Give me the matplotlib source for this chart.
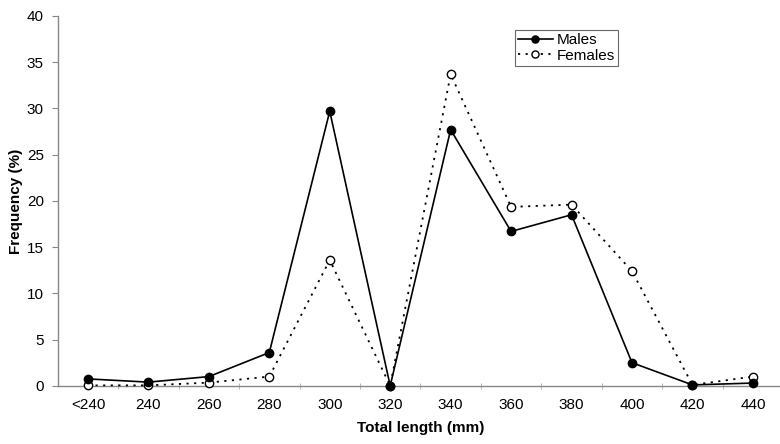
import matplotlib
matplotlib.use("Agg")
import matplotlib.pyplot as plt
import numpy as np

categories = ["<240", "240", "260", "280", "300", "320", "340", "360", "380", "400", "420", "440"]
males = [0.75, 0.4, 1.0, 3.6, 29.7, 0.0, 27.7, 16.7, 18.5, 2.5, 0.1, 0.3]
females = [0.05, 0.05, 0.35, 1.0, 13.6, 0.0, 33.7, 19.35, 19.6, 12.4, 0.1, 1.0]

plt.rcParams['font.family'] = ['Liberation Sans', 'DejaVu Sans']

fig = plt.figure(figsize=(7.8, 4.44), dpi=100)
ax = fig.add_axes([0.074, 0.131, 0.93, 0.833])

x = np.arange(len(categories))
ax.plot(x, males, color='black', lw=1.2, marker='o', ms=6,
        markerfacecolor='black', markeredgecolor='black', label='Males',
        zorder=4, clip_on=False)
ax.plot(x, females, color='black', lw=1.3, ls=(0, (1.2, 3)), marker='o', ms=6,
        markerfacecolor='white', markeredgecolor='black', markeredgewidth=1.0,
        label='Females', zorder=3, clip_on=False)

ax.set_xlim(-0.5, len(categories) - 0.5)
ax.set_ylim(0, 40)
ax.set_yticks(np.arange(0, 41, 5))
ax.set_xticks(x)
ax.set_xticklabels(categories)
ax.set_xticks(np.arange(0.5, len(categories) - 0.5, 1), minor=True)

for s in ['top', 'right']:
    ax.spines[s].set_visible(False)
ax.spines['left'].set_color('#888888')
ax.spines['bottom'].set_color('#888888')
ax.spines['left'].set_linewidth(1.0)
ax.spines['bottom'].set_linewidth(1.0)

ax.tick_params(axis='y', direction='out', length=4, color='#888888', labelsize=11, pad=6)
ax.tick_params(axis='x', which='major', length=0, labelsize=11, pad=9)
ax.tick_params(axis='x', which='minor', direction='inout', length=5, color='#aaaaaa')

ax.set_xlabel('Total length (mm)', fontsize=11, fontweight='bold', labelpad=6)
ax.set_ylabel('Frequency (%)', fontsize=11, fontweight='bold', labelpad=3)

leg = ax.legend(loc='upper left', bbox_to_anchor=(0.63, 0.962), frameon=True,
                fancybox=False, edgecolor='#444444', fontsize=11,
                handlelength=2.3, handletextpad=0.25, borderpad=0.2,
                labelspacing=0.1, borderaxespad=0, markerscale=0.85)
leg.get_frame().set_linewidth(0.8)

fig.savefig('out.png', dpi=100)
